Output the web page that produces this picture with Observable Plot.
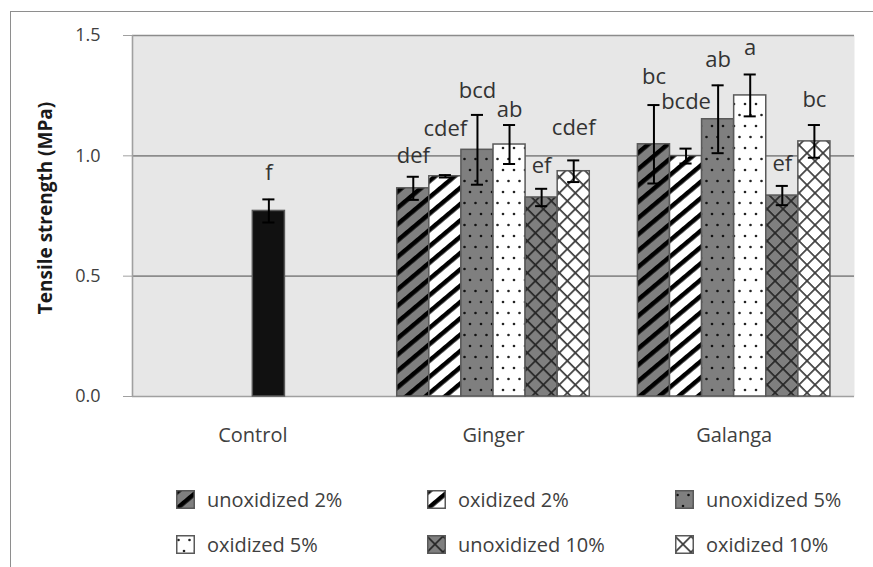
<!DOCTYPE html>
<html><head><meta charset="utf-8">
<script src="https://cdn.jsdelivr.net/npm/d3@7"></script>
<script src="https://cdn.jsdelivr.net/npm/@observablehq/plot@0.6"></script>
<style>
body{margin:0;width:873px;height:567px;overflow:hidden;background:#fff;font-family:"Open Sans",sans-serif;position:relative}
#border{position:absolute;left:10px;top:11px;width:900px;height:600px;border-left:1px solid #8e8e8e;border-top:1px solid #8e8e8e}
#chart{position:absolute;left:0;top:0}
.leg{position:absolute;display:flex;align-items:center;font-size:20px;color:#404040;white-space:nowrap;line-height:19px}
.leg svg{margin-right:12px;flex:none}
</style></head><body>
<div id="border"></div>
<div id="chart"></div>
<div id="legend"></div>
<script>
const categories = ["Control", "Ginger", "Galanga"];
const series = ["unoxidized 2%", "oxidized 2%", "unoxidized 5%", "oxidized 5%", "unoxidized 10%", "oxidized 10%"];
const yTicks = [0, 0.5, 1.0, 1.5];
const yTitle = "Tensile strength (MPa)";

const controlMean = 0.771;
const controlSD = 0.048;
const controlLetter = "f";

const gingerMean = [0.865, 0.915, 1.025, 1.047, 0.827, 0.936];
const gingerSD = [0.048, 0.005, 0.145, 0.081, 0.036, 0.045];
const gingerLetters = ["def", "cdef", "bcd", "ab", "ef", "cdef"];

const galangaMean = [1.048, 0.999, 1.152, 1.251, 0.835, 1.060];
const galangaSD = [0.163, 0.031, 0.141, 0.087, 0.040, 0.068];
const galangaLetters = ["bc", "bcde", "ab", "a", "ef", "bc"];

// annotation placement: how far each letter sits above its error bar (MPa)
const controlLift = 0.079;
const gingerLift = [0.058, 0.162, 0.071, 0.033, 0.066, 0.104];
const galangaLift = [0.087, 0.166, 0.075, 0.079, 0.062, 0.075];

// grouped-bar layout in category units: each category occupies [i, i+1]
const groupPad = 0.1;
const slotW = (1 - 2 * groupPad) / series.length;
const controlSlot = 3;

function row(cat, slot, key, mean, sd, letter, lift) {
  const g = categories.indexOf(cat);
  const x1 = g + groupPad + slot * slotW;
  return {cat, key, mean, sd, letter, lift, x1, x2: x1 + slotW, xc: x1 + slotW / 2};
}
const rows = [
  row("Control", controlSlot, "Control", controlMean, controlSD, controlLetter, controlLift),
  ...gingerMean.map((m, i) => row("Ginger", i, series[i], m, gingerSD[i], gingerLetters[i], gingerLift[i])),
  ...galangaMean.map((m, i) => row("Galanga", i, series[i], m, galangaSD[i], galangaLetters[i], galangaLift[i]))
];

const patternIds = series.map((s, i) => "pat" + i);
const fills = [...patternIds.map(id => `url(#${id})`), "#111111"];

const svg = Plot.plot({
  width: 873,
  height: 460,
  marginLeft: 132,
  marginRight: 19,
  marginTop: 35,
  marginBottom: 64,
  style: {fontFamily: "'Open Sans', sans-serif", background: "transparent"},
  x: {domain: [0, categories.length], label: null},
  y: {domain: [0, 1.5], label: null},
  color: {type: "ordinal", domain: [...series, "Control"], range: fills},
  marks: [
    Plot.frame({fill: "#e7e7e7"}),
    Plot.ruleY(yTicks.slice(1), {stroke: "#8c8c8c", strokeWidth: 1.6}),
    Plot.ruleY([0], {stroke: "#a0a0a0", strokeWidth: 1.6}),
    Plot.ruleX([0], {y1: 0, y2: 1.5, stroke: "#a0a0a0", strokeWidth: 1.6}),
    Plot.axisY({ticks: yTicks, tickFormat: d3.format(".1f"), tickSize: 9, tickPadding: 23, fontSize: 18, stroke: "#a0a0a0", fill: "#404040", label: null}),
    Plot.axisX({ticks: categories.map((c, i) => i + 0.5), tickFormat: d => categories[Math.floor(d)], tickSize: 0, tickPadding: 31, fontSize: 20, fill: "#404040", label: null}),
    Plot.text([yTitle], {text: d => d, frameAnchor: "left", textAnchor: "middle", dx: -87, dy: -8, rotate: -90, fontSize: 19, fontWeight: "bold", fill: "#1a1a1a"}),
    Plot.rectY(rows, {x1: "x1", x2: "x2", y: "mean", fill: "key", stroke: "#595959", strokeWidth: 1.5}),
    Plot.ruleX(rows, {x: "xc", y1: d => d.mean - d.sd, y2: d => d.mean + d.sd, stroke: "#000", strokeWidth: 2}),
    Plot.ruleY(rows, {x1: "x1", x2: "x2", y: d => d.mean + d.sd, insetLeft: 10, insetRight: 10, stroke: "#000", strokeWidth: 2}),
    Plot.ruleY(rows, {x1: "x1", x2: "x2", y: d => d.mean - d.sd, insetLeft: 10, insetRight: 10, stroke: "#000", strokeWidth: 2}),
    Plot.text(rows, {x: "xc", y: d => d.mean + d.sd + d.lift, text: "letter", lineAnchor: "bottom", fontSize: 22, fill: "#333"})
  ]
});

const defs = `
<pattern id="pat0" patternUnits="userSpaceOnUse" width="12.5" height="12.5" patternTransform="rotate(-40)">
  <rect width="12.5" height="12.5" fill="#7f7f7f"/><rect width="12.5" height="4.5" fill="#000"/></pattern>
<pattern id="pat1" patternUnits="userSpaceOnUse" width="12.5" height="12.5" patternTransform="rotate(-40)">
  <rect width="12.5" height="12.5" fill="#fff"/><rect width="12.5" height="4.5" fill="#000"/></pattern>
<pattern id="pat2" patternUnits="userSpaceOnUse" width="11" height="22">
  <rect width="11" height="22" fill="#7f7f7f"/><circle cx="2.5" cy="5" r="1.3" fill="#111"/><circle cx="8" cy="16" r="1.3" fill="#111"/></pattern>
<pattern id="pat3" patternUnits="userSpaceOnUse" width="11" height="22">
  <rect width="11" height="22" fill="#fff"/><circle cx="2.5" cy="5" r="1.3" fill="#222"/><circle cx="8" cy="16" r="1.3" fill="#222"/></pattern>
<pattern id="pat4" patternUnits="userSpaceOnUse" width="11.3" height="11.3" patternTransform="rotate(45)">
  <rect width="11.3" height="11.3" fill="#7f7f7f"/><rect width="11.3" height="1.7" fill="#262626"/><rect width="1.7" height="11.3" fill="#262626"/></pattern>
<pattern id="pat5" patternUnits="userSpaceOnUse" width="11.3" height="11.3" patternTransform="rotate(45)">
  <rect width="11.3" height="11.3" fill="#fff"/><rect width="11.3" height="1.7" fill="#3a3a3a"/><rect width="1.7" height="11.3" fill="#3a3a3a"/></pattern>`;
d3.select(svg).insert("defs", ":first-child").html(defs);
document.getElementById("chart").appendChild(svg);

// legend (HTML below the SVG)
const legCols = [176, 427, 675];
const legRows = [490, 535];
const legend = document.getElementById("legend");
series.forEach((s, i) => {
  const div = document.createElement("div");
  div.className = "leg";
  div.style.left = legCols[i % 3] + "px";
  div.style.top = legRows[Math.floor(i / 3)] + "px";
  div.innerHTML = `<svg width="19" height="19"><rect x="0.75" y="0.75" width="17.5" height="17.5" fill="url(#${patternIds[i]})" stroke="#595959" stroke-width="1.5"/></svg><span>${s}</span>`;
  legend.appendChild(div);
});
</script>
</body></html>
